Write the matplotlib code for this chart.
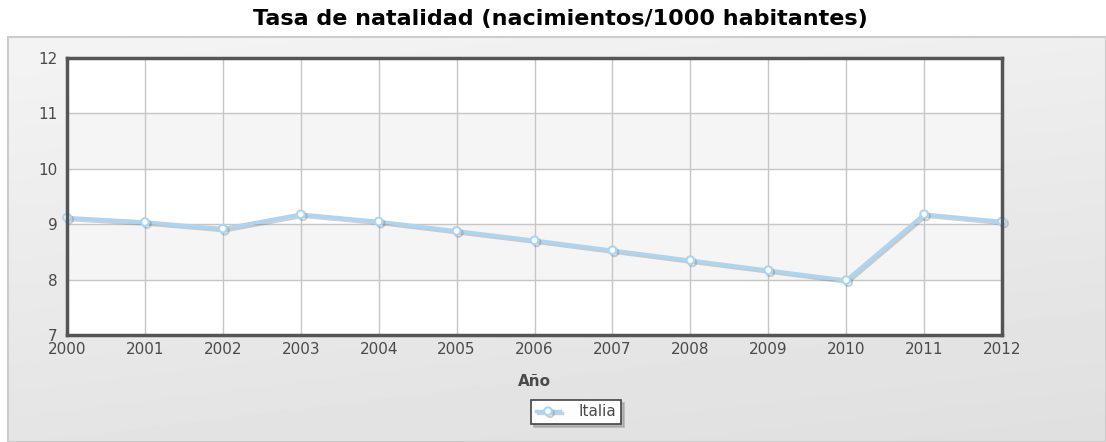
import matplotlib
matplotlib.use('Agg')
import matplotlib.pyplot as plt
import matplotlib.patheffects as pe
import numpy as np

# data
years = [2000, 2001, 2002, 2003, 2004, 2005, 2006, 2007, 2008, 2009, 2010, 2011, 2012]
italia = [9.12, 9.04, 8.92, 9.18, 9.05, 8.88, 8.71, 8.53, 8.35, 8.17, 7.99, 9.18, 9.05]
y_ticks = [7, 8, 9, 10, 11, 12]

title = "Tasa de natalidad (nacimientos/1000 habitantes)"
x_label = "Año"
series_name = "Italia"

line_color = '#acd5f3'
text_color = '#4a4a4a'
W, H = 1106, 442

fig = plt.figure(figsize=(W / 100, H / 100), dpi=100, facecolor='white')

# grey gradient panel behind the chart
bg = fig.add_axes([8 / W, 0, 1 - 8 / W, (H - 37) / H])
gy = np.linspace(0.955, 0.895, 256).reshape(-1, 1)
gx = np.linspace(0.0, -0.02, 256).reshape(1, -1)
bg.imshow(gy + gx, cmap='gray', vmin=0, vmax=1, aspect='auto', extent=[0, 1, 0, 1], origin='upper')
bg.set_xlim(0, 1)
bg.set_ylim(0, 1)
bg.set_xticks([])
bg.set_yticks([])
for s in bg.spines.values():
    s.set_edgecolor('#cccccc')
    s.set_linewidth(1.5)

# the reference text is slightly stretched, DejaVu is the closer width
fig.text(560 / W, 1 - 19 / H, title, ha='center', va='center',
         fontsize=16, fontweight='bold', family='DejaVu Sans', color='black')

ax = fig.add_axes([67 / W, 1 - 335 / H, (1002 - 67) / W, (335 - 58) / H])
ax.set_facecolor('white')

# alternating bands
for lo in [8, 10]:
    ax.axhspan(lo, lo + 1, color='#f5f5f5', zorder=0)

ax.plot(years, italia, color=line_color, linewidth=2.5, marker='o', markersize=5.5,
        markerfacecolor='white', markeredgecolor=line_color, markeredgewidth=1.5,
        label=series_name, zorder=3, clip_on=False,
        path_effects=[pe.SimpleLineShadow(offset=(1.5, -1.5), shadow_color='#777777', alpha=0.35),
                      pe.Normal()])

ax.set_xlim(2000, 2012)
ax.set_ylim(7, 12)
ax.set_xticks(years)
ax.set_yticks(y_ticks)
ax.grid(True, color='#c6c6c6', linewidth=1)
ax.set_axisbelow(True)
ax.tick_params(axis='both', length=0, labelsize=11, colors=text_color)
ax.tick_params(axis='y', pad=7)
ax.tick_params(axis='x', pad=5)
for s in ax.spines.values():
    s.set_edgecolor('#555555')
    s.set_linewidth(2.5)
    s.set_zorder(4)

fig.text(534 / W, 1 - 381 / H, x_label, ha='center', va='center',
         fontsize=11, fontweight='bold', color=text_color)

leg = fig.legend(loc='center', bbox_to_anchor=(576 / W, 1 - 412 / H), frameon=True, fancybox=False,
                 shadow={'color': '#999999', 'alpha': 0.6}, fontsize=11, handlelength=1.6,
                 borderpad=0.3, handletextpad=1.2, borderaxespad=0)
leg.get_frame().set_edgecolor('#444444')
leg.get_frame().set_linewidth(1.2)
for t in leg.get_texts():
    t.set_color(text_color)

fig.savefig('out.png', dpi=100, facecolor='white')
